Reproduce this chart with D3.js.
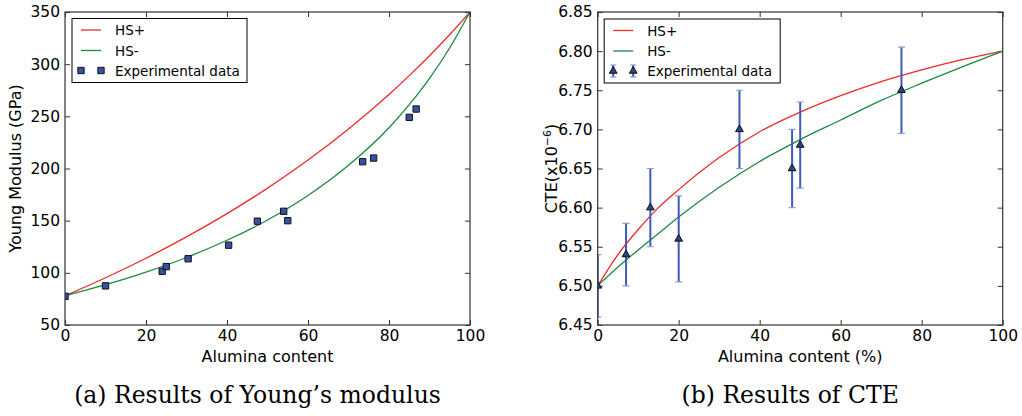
<!DOCTYPE html>
<html>
<head>
<meta charset="utf-8">
<script src="https://cdn.jsdelivr.net/npm/d3@7"></script>
<style>
  body { margin: 0; background: #fff; }
  svg { display: block; }
  text { font-family: "DejaVu Sans", sans-serif; fill: #000; }
</style>
</head>
<body>
<svg width="1022" height="416"></svg>
<script>
/* global d3 */

// (a) Young's modulus
const youngCurveX = [0, 10, 20, 30, 40, 50, 60, 70, 80, 85, 90, 95, 100]
const youngHSPlus = [78, 95.3, 114, 134.4, 156.7, 181.2, 208.1, 237.9, 271, 289, 308.1, 328.4, 350]
const youngHSMinus = [78, 88.6, 100.7, 114.7, 131.2, 150.6, 174.1, 203, 239, 261.2, 286.4, 315.7, 350]
const youngExpX = [0, 10, 24, 25, 30.4, 40.4, 47.5, 54, 55, 73.5, 76.2, 85, 86.7]
const youngExpY = [77.5, 87.5, 101.5, 106, 113.5, 126.5, 149.5, 159, 150, 206.5, 210, 249, 257]
const youngTicks = [50, 100, 150, 200, 250, 300, 350]

// (b) CTE
const cteCurveX = [0, 5, 10, 15, 20, 30, 40, 50, 60, 70, 80, 90, 100]
const cteHSPlus = [6.5, 6.54, 6.572, 6.6, 6.623, 6.664, 6.697, 6.722, 6.743, 6.761, 6.776, 6.789, 6.8]
const cteHSMinus = [6.5, 6.524, 6.546, 6.567, 6.588, 6.626, 6.659, 6.687, 6.712, 6.737, 6.759, 6.78, 6.8]
const cteExpX = [0, 7, 13, 20, 35, 48, 50, 75]
const cteExpY = [6.5, 6.54, 6.6, 6.56, 6.7, 6.65, 6.68, 6.75]
const cteErr = [0.04, 0.04, 0.05, 0.055, 0.05, 0.05, 0.055, 0.055]
const cteTicks = [6.45, 6.5, 6.55, 6.6, 6.65, 6.7, 6.75, 6.8, 6.85]

const xTicks = [0, 20, 40, 60, 80, 100]

const red = '#ee2a2a'
const green = '#1a8a40'
const markFill = '#3552a4'
const barColor = '#3f5ab4'
const capColor = '#8a9bd6'

const svg = d3.select('svg')

const drawPanel = (p) => {
  const g = svg.append('g').attr('transform', `translate(${p.left},${p.top})`)
  const w = p.width
  const h = p.height

  const xScale = d3.scaleLinear().domain([0, 100]).range([0, w])
  const yScale = d3.scaleLinear().domain(p.yDomain).range([h, 0])

  const line = (xs, ys) => d3.line()
    .x((d, i) => xScale(xs[i]))
    .y((d) => yScale(d))
    .curve(d3.curveMonotoneX)(ys)

  // axes, classic inward ticks on all four sides
  const styleAxis = (sel) => {
    sel.select('.domain').remove()
    sel.selectAll('.tick line').attr('stroke', '#333')
    sel.selectAll('text').style('font-size', '15.5px').attr('fill', '#000')
      .style('font-family', '"DejaVu Sans", sans-serif')
  }

  g.append('g').attr('transform', `translate(0,${h})`)
    .call(d3.axisBottom(xScale).tickValues(xTicks).tickSizeInner(-5).tickSizeOuter(0).tickPadding(5))
    .call(styleAxis)
  g.append('g')
    .call(d3.axisTop(xScale).tickValues(xTicks).tickSizeInner(-5).tickSizeOuter(0).tickFormat(''))
    .call(styleAxis)
  g.append('g')
    .call(d3.axisLeft(yScale).tickValues(p.yTicks).tickSizeInner(-5).tickSizeOuter(0).tickPadding(5)
      .tickFormat(p.yFormat))
    .call(styleAxis)
  g.append('g').attr('transform', `translate(${w},0)`)
    .call(d3.axisRight(yScale).tickValues(p.yTicks).tickSizeInner(-5).tickSizeOuter(0).tickFormat(''))
    .call(styleAxis)

  // everything drawn from data is clipped to the axes box
  svg.append('clipPath').attr('id', p.id)
    .append('rect').attr('width', w).attr('height', h)
  const plot = g.append('g').attr('clip-path', `url(#${p.id})`)

  // curves
  plot.append('path').attr('d', line(p.curveX, p.plus))
    .attr('fill', 'none').attr('stroke', red).attr('stroke-width', 1.3)
  plot.append('path').attr('d', line(p.curveX, p.minus))
    .attr('fill', 'none').attr('stroke', green).attr('stroke-width', 1.3)

  // experimental data
  if (p.err) {
    const bars = plot.selectAll('g.err').data(p.expY).enter().append('g').attr('class', 'err')
    bars.append('line')
      .attr('x1', (d, i) => xScale(p.expX[i])).attr('x2', (d, i) => xScale(p.expX[i]))
      .attr('y1', (d, i) => yScale(d - p.err[i])).attr('y2', (d, i) => yScale(d + p.err[i]))
      .attr('stroke', barColor).attr('stroke-width', 2)
    ;[-1, 1].forEach((s) => {
      bars.append('line')
        .attr('x1', (d, i) => xScale(p.expX[i]) - 3.5).attr('x2', (d, i) => xScale(p.expX[i]) + 3.5)
        .attr('y1', (d, i) => yScale(d + s * p.err[i])).attr('y2', (d, i) => yScale(d + s * p.err[i]))
        .attr('stroke', capColor).attr('stroke-width', 1.2)
    })
  }
  plot.selectAll('path.mark').data(p.expY).enter().append('path')
    .attr('class', 'mark')
    .attr('transform', (d, i) => `translate(${xScale(p.expX[i])},${yScale(d)})`)
    .attr('d', d3.symbol(p.symbol, p.symbolSize))
    .attr('fill', p.markColor).attr('stroke', '#111').attr('stroke-width', 1)

  // spines
  g.append('rect').attr('width', w).attr('height', h)
    .attr('fill', 'none').attr('stroke', '#333').attr('stroke-width', 1.2)

  // labels
  g.append('text').attr('x', w / 2).attr('y', h + 37)
    .attr('text-anchor', 'middle').style('font-size', '16px').text(p.xLabel)
  const yl = g.append('text')
    .attr('transform', `translate(${p.yLabelX},${h / 2}) rotate(-90)`)
    .attr('text-anchor', 'middle').style('font-size', '16px')
  p.yLabel(yl)

  // legend
  const lg = g.append('g').attr('transform', `translate(${p.legend[0]},${p.legend[1]})`)
  lg.append('rect').attr('width', p.legend[2]).attr('height', 64)
    .attr('fill', '#fff').attr('stroke', '#000').attr('stroke-width', 1)
  const rows = [['HS+', red], ['HS-', green]]
  rows.forEach(([name, color], i) => {
    const yy = 11.5 + i * 20.5
    lg.append('line').attr('x1', 9).attr('x2', 29).attr('y1', yy).attr('y2', yy)
      .attr('stroke', color).attr('stroke-width', 1.3)
    lg.append('text').attr('x', 43).attr('y', yy).attr('dominant-baseline', 'central')
      .style('font-size', '13.5px').text(name)
  })
  const ey = 52
  ;[9, 29].forEach((mx) => {
    if (p.err) {
      lg.append('line').attr('x1', mx).attr('x2', mx).attr('y1', ey - 6).attr('y2', ey + 6)
        .attr('stroke', barColor).attr('stroke-width', 2)
      ;[-6, 6].forEach((o) => {
        lg.append('line').attr('x1', mx - 3).attr('x2', mx + 3).attr('y1', ey + o).attr('y2', ey + o)
          .attr('stroke', capColor).attr('stroke-width', 1.2)
      })
    }
    lg.append('path').attr('transform', `translate(${mx},${ey})`)
      .attr('d', d3.symbol(p.symbol, p.symbolSize))
      .attr('fill', p.markColor).attr('stroke', '#111').attr('stroke-width', 1)
  })
  lg.append('text').attr('x', 43).attr('y', ey).attr('dominant-baseline', 'central')
    .style('font-size', '13.5px').text('Experimental data')

  // caption
  svg.append('text').attr('x', p.left + w / 2 - 10).attr('y', 403)
    .attr('text-anchor', 'middle')
    .style('font-family', '"DejaVu Serif", serif').style('font-size', '23.5px')
    .text(p.caption)
}

drawPanel({
  id: 'clipA',
  left: 65,
  top: 12,
  width: 405,
  height: 313,
  yDomain: [50, 350],
  yTicks: youngTicks,
  yFormat: d3.format('d'),
  curveX: youngCurveX,
  plus: youngHSPlus,
  minus: youngHSMinus,
  expX: youngExpX,
  expY: youngExpY,
  symbol: d3.symbolSquare,
  symbolSize: 40,
  markColor: markFill,
  xLabel: 'Alumina content',
  yLabel: (t) => t.text('Young Modulus (GPa)'),
  yLabelX: -44,
  legend: [7, 6.5, 175],
  caption: '(a) Results of Young\u2019s modulus'
})

drawPanel({
  id: 'clipB',
  left: 597.7,
  top: 12,
  width: 405,
  height: 313,
  yDomain: [6.45, 6.85],
  yTicks: cteTicks,
  yFormat: d3.format('.2f'),
  curveX: cteCurveX,
  plus: cteHSPlus,
  minus: cteHSMinus,
  expX: cteExpX,
  expY: cteExpY,
  err: cteErr,
  symbol: d3.symbolTriangle,
  symbolSize: 26,
  markColor: '#2c4584',
  xLabel: 'Alumina content (%)',
  yLabel: (t) => {
    t.append('tspan').text('CTE(x10')
    t.append('tspan').attr('dy', -6).style('font-size', '11px').text('\u22126')
    t.append('tspan').attr('dy', 6).text(')')
  },
  yLabelX: -41,
  legend: [6.5, 7, 176],
  caption: '(b) Results of CTE'
})
</script>
</body>
</html>
